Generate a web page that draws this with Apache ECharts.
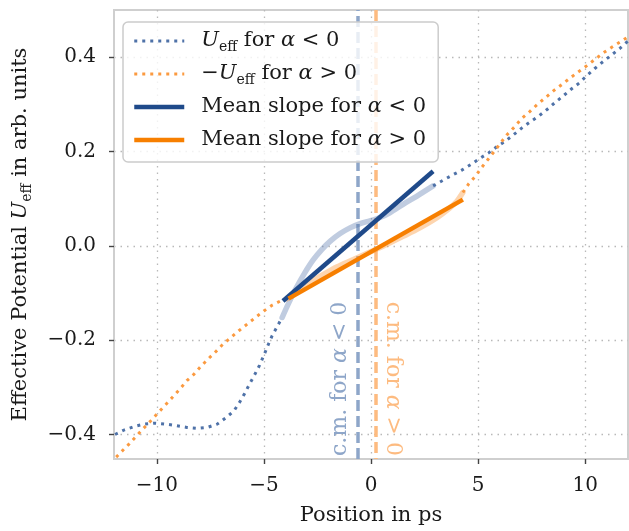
<!DOCTYPE html>
<html>
<head>
<meta charset="utf-8">
<script src="https://cdn.jsdelivr.net/npm/echarts@6/dist/echarts.min.js"></script>
<style>
  html, body { margin: 0; padding: 0; background: #ffffff; }
  #chart { width: 629px; height: 531px; }
</style>
</head>
<body>
<div id="chart"></div>
<script>
// Effective potential U_eff for both signs of alpha, with mean slopes and centres of mass

const xRange = [-12, 12];
const yRange = [-0.452, 0.5];
const xTicks = [-10, -5, 0, 5, 10];
const yTicks = [-0.4, -0.2, 0.0, 0.2, 0.4];

// U_eff for alpha < 0, outer (dotted) parts and the central region
const blueLeft = [
  [-11.95, -0.400], [-11.5, -0.390], [-11.05, -0.383], [-10.6, -0.378], [-10.1, -0.376],
  [-9.58, -0.378], [-9.12, -0.381], [-8.6, -0.385], [-8.1, -0.387], [-7.64, -0.385],
  [-7.18, -0.378], [-6.79, -0.365], [-6.4, -0.350], [-6.14, -0.332], [-5.9, -0.313],
  [-5.67, -0.293], [-5.44, -0.274], [-5.2, -0.253], [-5.0, -0.232], [-4.82, -0.212],
  [-4.62, -0.191], [-4.39, -0.172], [-4.15, -0.152]
];
const blueCore = [
  [-4.15, -0.152], [-3.85, -0.122], [-3.5, -0.090], [-3.1, -0.058], [-2.7, -0.030],
  [-2.3, -0.008], [-1.9, 0.010], [-1.44, 0.026], [-0.98, 0.038], [-0.51, 0.047],
  [-0.05, 0.053], [0.42, 0.060], [0.88, 0.070], [1.5, 0.088], [2.13, 0.105], [2.9, 0.127]
];
const blueRight = [
  [2.9, 0.127], [3.36, 0.139], [3.8, 0.150], [4.22, 0.160], [4.65, 0.172], [5.07, 0.185],
  [5.49, 0.197], [5.87, 0.210], [6.28, 0.222], [6.67, 0.236], [7.05, 0.250], [7.44, 0.263],
  [7.83, 0.275], [8.22, 0.289], [8.6, 0.304], [8.98, 0.318], [9.37, 0.333], [9.72, 0.345],
  [10.08, 0.361], [10.45, 0.376], [10.85, 0.391], [11.24, 0.405], [11.63, 0.419], [12.0, 0.434]
];

// -U_eff for alpha > 0
const orangeLeft = [
  [-11.9, -0.448], [-11.64, -0.436], [-11.29, -0.420], [-10.93, -0.402], [-10.62, -0.387],
  [-10.28, -0.371], [-9.94, -0.354], [-9.61, -0.338], [-9.27, -0.321], [-8.93, -0.304],
  [-8.6, -0.286], [-8.26, -0.272], [-7.95, -0.256], [-7.61, -0.240], [-7.26, -0.225],
  [-6.9, -0.208], [-6.53, -0.194], [-6.17, -0.180], [-5.78, -0.166], [-5.4, -0.152],
  [-5.0, -0.138], [-4.62, -0.126], [-4.23, -0.117], [-3.92, -0.112]
];
const orangeCore = [
  [-3.92, -0.112], [-3.6, -0.100], [-3.2, -0.088], [-2.7, -0.074], [-2.2, -0.060],
  [-1.6, -0.045], [-0.82, -0.029], [-0.05, -0.013], [0.73, 0.003], [1.5, 0.020],
  [2.28, 0.038], [3.06, 0.059], [3.67, 0.080], [4.0, 0.094], [4.29, 0.113]
];
const orangeRight = [
  [4.29, 0.113], [4.57, 0.132], [4.88, 0.148], [5.15, 0.165], [5.46, 0.183], [5.77, 0.201],
  [6.05, 0.218], [6.36, 0.236], [6.7, 0.252], [7.04, 0.270], [7.4, 0.284], [7.75, 0.299],
  [8.14, 0.314], [8.53, 0.329], [8.91, 0.342], [9.3, 0.356], [9.69, 0.369], [10.08, 0.382],
  [10.45, 0.395], [10.84, 0.409], [11.24, 0.421], [11.66, 0.433], [12.0, 0.443]
];

// Mean slopes over the central region
const slopeNeg = [[-4.11, -0.117], [2.9, 0.158]];
const slopePos = [[-3.85, -0.112], [4.29, 0.098]];

// Centres of mass
const cmNeg = -0.62;
const cmPos = 0.2;

const seriesNames = ['ueffNeg', 'ueffPos', 'slopeNeg', 'slopePos'];
const legendLabels = [
  '{i|U}{s|eff} for {i|α} < 0',
  '−{i|U}{s|eff} for {i|α} > 0',
  'Mean slope for {i|α} < 0',
  'Mean slope for {i|α} > 0'
];
const cmLabels = ['c.m. for {i|α} < 0', 'c.m. for {i|α} > 0'];
const xAxisTitle = 'Position in ps';
const yAxisTitle = 'Effective Potential {i|U}{s|eff} in arb. units';

const FONT = 'DejaVu Serif';
const INK = '#1a1a1a';
const C_BLUE = '#4f72a8';
const C_ORANGE = '#fb9a40';
const C_NAVY = '#1f4a8a';
const C_DEEPORANGE = '#f77f00';
const C_CM_BLUE = '#8ea6c9';
const C_CM_ORANGE = '#fdbb80';

const DOT = [3, 5];
const DOT_W = 3;
const SOLID_W = 4.5;

function richFor(size, color) {
  return {
    i: { fontFamily: FONT, fontStyle: 'italic', fontSize: size, color: color, lineHeight: 26 },
    s: { fontFamily: FONT, fontSize: Math.round(size * 0.66), color: color, lineHeight: 14, verticalAlign: 'bottom' }
  };
}
function minus(str) { return str.replace('-', '\u2212'); }

const legendMap = {};
seriesNames.forEach((n, k) => { legendMap[n] = legendLabels[k]; });

const gridLine = { show: true, lineStyle: { color: '#b9b9b9', width: 1.3, type: [1.5, 5] } };
const frame = { show: true, onZero: false, lineStyle: { color: '#cfcfcf', width: 2 } };
const ticks = { show: true, inside: false, length: 5, lineStyle: { color: '#444', width: 1.4 } };

const chart = echarts.init(document.getElementById('chart'), null, { renderer: 'canvas' });

function dotted(name, data, color) {
  return {
    name: name, type: 'line', data: data, showSymbol: false, symbol: 'none',
    lineStyle: { color: color, width: DOT_W, type: DOT, cap: 'butt' },
    itemStyle: { color: color }, z: 4, silent: true
  };
}
function faded(data, color, opacity) {
  return {
    name: '_core', type: 'line', data: data, showSymbol: false, symbol: 'none', smooth: 0.3,
    lineStyle: { color: color, width: 5.5, opacity: opacity, cap: 'round' }, z: 3, silent: true
  };
}
function solid(name, data, color) {
  return {
    name: name, type: 'line', data: data, showSymbol: false, symbol: 'none',
    lineStyle: { color: color, width: SOLID_W, cap: 'butt' }, itemStyle: { color: color },
    z: 5, silent: true
  };
}

const legendItems = [
  { name: seriesNames[0], lineStyle: { color: C_BLUE, width: DOT_W, type: DOT } },
  { name: seriesNames[1], lineStyle: { color: C_ORANGE, width: DOT_W, type: DOT } },
  { name: seriesNames[2], lineStyle: { color: C_NAVY, width: SOLID_W, type: 'solid' } },
  { name: seriesNames[3], lineStyle: { color: C_DEEPORANGE, width: SOLID_W, type: 'solid' } }
];

const option = {
  animation: false,
  backgroundColor: '#ffffff',
  textStyle: { fontFamily: FONT },
  grid: {
    left: 113, right: 1, top: 10, bottom: 71,
    show: true, borderColor: '#cfcfcf', borderWidth: 2, backgroundColor: 'transparent'
  },
  xAxis: {
    type: 'value', min: xRange[0], max: xRange[1], splitNumber: 5,
    axisLine: frame, axisTick: Object.assign({ customValues: xTicks }, ticks),
    axisLabel: {
      customValues: xTicks, margin: 17, fontFamily: FONT, fontSize: 20, color: INK,
      formatter: v => minus(String(v))
    },
    splitLine: gridLine,
    name: xAxisTitle, nameLocation: 'middle', nameGap: 46,
    nameTextStyle: { fontFamily: FONT, fontSize: 21, color: INK }
  },
  yAxis: {
    type: 'value', min: yRange[0], max: yRange[1], splitNumber: 5,
    axisLine: frame, axisTick: Object.assign({ customValues: yTicks }, ticks),
    axisLabel: {
      customValues: yTicks, margin: 18, fontFamily: FONT, fontSize: 20, color: INK,
      formatter: v => minus(v.toFixed(1))
    },
    splitLine: gridLine,
    name: yAxisTitle, nameLocation: 'middle', nameGap: 80,
    nameTextStyle: { fontFamily: FONT, fontSize: 21, color: INK, lineHeight: 26, rich: richFor(21, INK) }
  },
  legend: {
    data: legendItems,
    orient: 'vertical', left: 123, top: 22, z: 10,
    padding: [6, 12, 9, 9], itemGap: 7,
    itemWidth: 50, itemHeight: 14,
    itemStyle: { opacity: 0 },
    backgroundColor: 'rgba(255,255,255,0.8)', borderColor: '#cccccc', borderWidth: 1.5, borderRadius: 5,
    formatter: n => legendMap[n],
    selectedMode: false,
    textStyle: {
      fontFamily: FONT, fontSize: 21, color: INK, lineHeight: 26, padding: [0, 0, 0, 12],
      rich: richFor(21, INK)
    }
  },
  series: [
    {
      name: '_cm', type: 'line', data: [], silent: true, z: 1,
      markLine: {
        silent: true, symbol: ['none', 'none'], animation: false, z: 1,
        data: [
          [
            { coord: [cmNeg, yRange[0]], lineStyle: { color: C_CM_BLUE, width: 3.5, type: [11, 5] },
              label: { show: true, position: 'insideStartTop', distance: [3, 4], formatter: cmLabels[0],
                       fontFamily: FONT, fontSize: 22, color: C_CM_BLUE, rich: richFor(22, C_CM_BLUE) } },
            { coord: [cmNeg, yRange[1]] }
          ],
          [
            { coord: [cmPos, yRange[1]], lineStyle: { color: C_CM_ORANGE, width: 3.5, type: [11, 5] },
              label: { show: true, position: 'insideEndTop', distance: [3, 4], formatter: cmLabels[1],
                       fontFamily: FONT, fontSize: 22, color: C_CM_ORANGE, rich: richFor(22, C_CM_ORANGE) } },
            { coord: [cmPos, yRange[0]] }
          ]
        ]
      }
    },
    faded(blueCore, C_BLUE, 0.36),
    faded(orangeCore, C_ORANGE, 0.42),
    dotted('ueffNeg', blueLeft, C_BLUE),
    dotted('ueffNeg', blueRight, C_BLUE),
    dotted('ueffPos', orangeLeft, C_ORANGE),
    dotted('ueffPos', orangeRight, C_ORANGE),
    solid('slopeNeg', slopeNeg, C_NAVY),
    solid('slopePos', slopePos, C_DEEPORANGE)
  ]
};

chart.setOption(option);
</script>
</body>
</html>
